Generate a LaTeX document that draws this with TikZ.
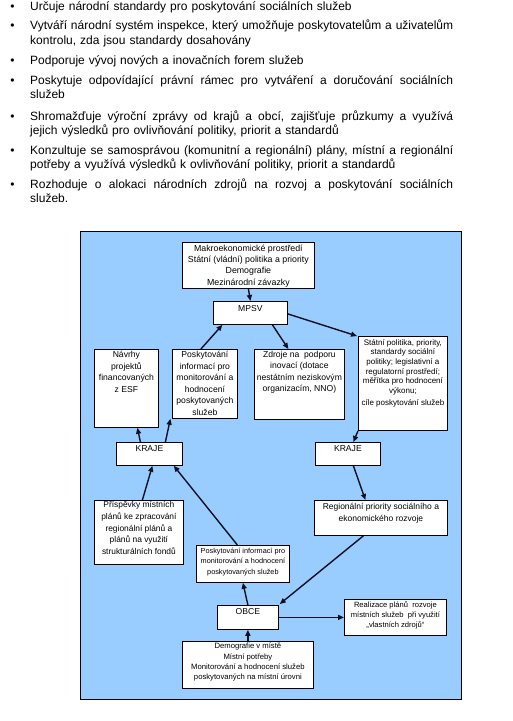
\documentclass[tikz,border=0pt]{standalone}
\usepackage{fontspec}
\setmainfont{Liberation Sans}
\usetikzlibrary{arrows.meta}
\definecolor{bgblue}{HTML}{99CCFF}
\definecolor{ink}{HTML}{101020}
\tikzset{
  para/.style={anchor=base west, inner sep=0pt, text width=423pt, align=left,
    font=\fontsize{12}{14.5}\selectfont},
  bul/.style={anchor=base, inner sep=0pt, font=\fontsize{12}{14}\selectfont},
  box/.style={draw=black, fill=white, line width=0.8pt, anchor=north west, inner sep=0pt},
  txt/.style={anchor=north, inner sep=0pt, align=center, font=\fontsize{8.6}{11.5}\selectfont},
  arr/.style={draw=ink, line width=1.4pt, -{Triangle[length=6pt,width=5pt]}}
}
\newcommand\jl[1]{{\spaceskip=0pt\xspaceskip=0pt\makebox[423pt][s]{#1}}}
\begin{document}
\begin{tikzpicture}[x=1pt,y=-1pt]
\useasboundingbox (0,0) rectangle (512,721);
% bullets
\foreach \yy/\nm in {10/b1,29.5/b2,64/b3,84/b4,120/b5,154/b6,188/b7}{
  \node[bul] (\nm) at (12.5,\yy) {•};
}
\node[para] (p1) at (30,10) {Určuje národní standardy pro poskytování sociálních služeb};
\node[para] (p2) at (30,29.5) {\jl{Vytváří národní systém inspekce, který umožňuje poskytovatelům a uživatelům}\\kontrolu, zda jsou standardy dosahovány};
\node[para] (p3) at (30,64) {Podporuje vývoj nových a inovačních forem služeb};
\node[para] (p4) at (30,84) {\jl{Poskytuje odpovídající právní rámec pro vytváření a doručování sociálních}\\služeb};
\node[para] (p5) at (30,120) {\jl{Shromažďuje výroční zprávy od krajů a obcí, zajišťuje průzkumy a využívá}\\jejich výsledků pro ovlivňování politiky, priorit a standardů};
\node[para] (p6) at (30,154) {\jl{Konzultuje se samosprávou (komunitní a regionální) plány, místní a regionální}\\potřeby a využívá výsledků k ovlivňování politiky, priorit a standardů};
\node[para] (p7) at (30,188) {\jl{Rozhoduje o alokaci národních zdrojů na rozvoj a poskytování sociálních}\\služeb.};
% background
\node[draw=black, fill=bgblue, line width=0.8pt, anchor=north west, inner sep=0pt,
  minimum width=381pt, minimum height=468pt] (bg) at (80,231) {};
% boxes
\node[box, minimum width=132pt, minimum height=46pt] (makro) at (182,242) {};
\node[box, minimum width=74pt, minimum height=23pt] (mpsv) at (213,301) {};
\node[box, minimum width=64pt, minimum height=78pt] (navrhy) at (94,349) {};
\node[box, minimum width=65pt, minimum height=69pt] (posk1) at (172,349) {};
\node[box, minimum width=90pt, minimum height=70pt] (zdroje) at (254,349) {};
\node[box, minimum width=89pt, minimum height=94pt] (statni) at (358,336) {};
\node[box, minimum width=66pt, minimum height=23pt] (kraje1) at (116,442) {};
\node[box, minimum width=65pt, minimum height=23pt] (kraje2) at (315,442) {};
\node[box, minimum width=89pt, minimum height=64pt] (prisp) at (94,500) {};
\node[box, minimum width=133pt, minimum height=35pt] (region) at (314,500) {};
\node[box, minimum width=93pt, minimum height=37pt] (posk2) at (196,545) {};
\node[box, minimum width=61pt, minimum height=24pt] (obce) at (217,605) {};
\node[box, minimum width=102pt, minimum height=36pt] (realiz) at (344,599) {};
\node[box, minimum width=131pt, minimum height=47pt] (demo) at (182,641) {};
% texts
\node[txt, font=\fontsize{8.8}{11.4}\selectfont] (tmakro) at ([yshift=-2.5pt]makro.north) {Makroekonomické prostředí\\Státní (vládní) politika a priority\\Demografie\\Mezinárodní závazky};
\node[txt] (tmpsv) at ([yshift=-4pt]mpsv.north) {MPSV};
\node[txt] (tnavrhy) at ([yshift=-2pt]navrhy.north) {Návrhy\\projektů\\financovaných\\z ESF};
\node[txt] (tposk1) at ([yshift=-2pt]posk1.north) {Poskytování\\informací pro\\monitorování a\\hodnocení\\poskytovaných\\služeb};
\node[txt] (tzdroje) at ([yshift=-2pt]zdroje.north) {Zdroje na\ \ podporu\\inovací (dotace\\nestátním neziskovým\\organizacím, NNO)};
\node[txt, font=\fontsize{8}{9.7}\selectfont] (tstatni) at ([yshift=-3pt]statni.north) {Státní politika, priority,\\standardy sociální\\politiky; legislativní a\\regulatorní prostředí;\\měřítka pro hodnocení\\výkonu;\\[2pt]cíle poskytování služeb};
\node[txt] (tkraje1) at ([yshift=-3pt]kraje1.north) {KRAJE};
\node[txt] (tkraje2) at ([yshift=-3pt]kraje2.north) {KRAJE};
\node[txt, font=\fontsize{8.4}{11.7}\selectfont] (tprisp) at ([yshift=-1.5pt]prisp.north) {Příspěvky místních\\plánů ke zpracování\\regionální plánů a\\plánů na využití\\strukturálních fondů};
\node[txt, font=\fontsize{8.5}{12.5}\selectfont] (tregion) at ([yshift=-3pt]region.north) {Regionální priority sociálního a\\ekonomického rozvoje};
\node[txt, font=\fontsize{7.3}{10.5}\selectfont] (tposk2) at ([yshift=-2.5pt]posk2.north) {Poskytování informací pro\\monitorování a hodnocení\\poskytovaných služeb};
\node[txt] (tobce) at ([yshift=-3pt]obce.north) {OBCE};
\node[txt, font=\fontsize{7.6}{10}\selectfont] (trealiz) at ([yshift=-2pt]realiz.north) {Realizace plánů\ \ rozvoje\\místních služeb\ \ při využití\\„vlastních zdrojů“};
\node[txt, font=\fontsize{7.7}{10.2}\selectfont] (tdemo) at ([yshift=-2pt]demo.north) {Demografie v místě\\Místní potřeby\\Monitorování a hodnocení služeb\\poskytovaných na místní úrovni};
% arrows
\draw[arr] (makro.south) -- (mpsv.north);
\draw[arr] ([yshift=-1pt]mpsv.east) -- ([xshift=-1pt]statni.north west);
\draw[arr] ([xshift=-4pt]posk1.north) -- ([xshift=-28pt]mpsv.south);
\draw[arr] ([xshift=22pt]mpsv.south) -- ([xshift=-11pt]zdroje.north);
\draw[arr] ([xshift=-9pt]kraje1.north) -- ([xshift=11pt]navrhy.south);
\draw[arr] ([xshift=16pt]kraje1.north) -- ([xshift=-34.5pt]posk1.south);
\draw[arr] (statni.south west) -- ([xshift=5.5pt]kraje2.north);
\draw[arr] ([xshift=3.5pt]prisp.north) -- ([xshift=3pt]kraje1.south);
\draw[arr] ([xshift=-5.5pt]posk2.north) -- ([xshift=-9pt]kraje1.south east);
\draw[arr] ([xshift=5.5pt]kraje2.south) -- ([xshift=-15.5pt]region.north);
\draw[arr] ([xshift=-17.5pt]region.south) -- ([xshift=1pt,yshift=1pt]obce.north east);
\draw[arr] (obce.north) -- (posk2.south);
\draw[arr] (obce.east) -- (realiz.west);
\draw[arr] (demo.north) -- (obce.south);
\end{tikzpicture}
\end{document}
